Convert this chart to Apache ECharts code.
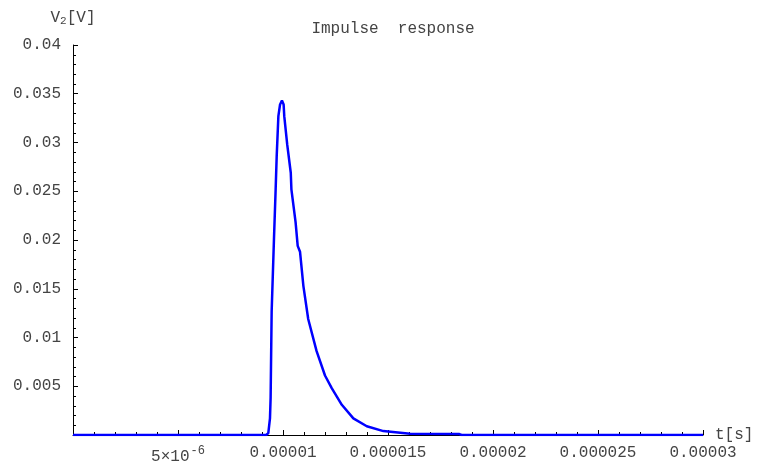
<!DOCTYPE html>
<html>
<head>
<meta charset="utf-8">
<script src="https://cdn.jsdelivr.net/npm/echarts@6/dist/echarts.min.js"></script>
<style>
  html, body { margin: 0; padding: 0; background: #fff; }
  #chart { width: 763px; height: 465px; }
</style>
</head>
<body>
<div id="chart"></div>
<script>
// time in microseconds (axis labels show seconds), voltage in volts
var timeUs = [0, 5, 9.2, 9.3, 9.38, 9.41, 9.46, 9.57, 9.65, 9.7, 9.78, 9.86, 9.95, 10.03, 10.06, 10.2, 10.37, 10.4, 10.6, 10.7, 10.81, 10.97, 11.2, 11.6, 12.0, 12.32, 12.8, 13.35, 13.99, 14.78, 16.05, 18.4, 18.5, 25, 30];
var voltage = [0, 0, 0, 0.0002, 0.0017, 0.0038, 0.0127, 0.0201, 0.0252, 0.0286, 0.0327, 0.0339, 0.0343, 0.0339, 0.0327, 0.0298, 0.0269, 0.0252, 0.0218, 0.0194, 0.0188, 0.0153, 0.0119, 0.0086, 0.0061, 0.0048, 0.0031, 0.0017, 0.0009, 0.0004, 0.00013, 0.0001, 0, 0, 0];

var xTickLabels = ['', '{a|5×10}{s|-6}', '0.00001', '0.000015', '0.00002', '0.000025', '0.00003'];
var yTickLabels = ['', '0.005', '0.01', '0.015', '0.02', '0.025', '0.03', '0.035', '0.04'];

var points = timeUs.map(function (t, i) { return [t, voltage[i]]; });

var font = 'Liberation Mono';
var textColor = '#444';

var myChart = echarts.init(document.getElementById('chart'));
var option = {
    backgroundColor: '#fff',
    animation: false,
    title: {
        text: 'Impulse  response',
        left: 388,
        top: 16,
        textAlign: 'center',
        textStyle: { fontFamily: font, fontSize: 16, fontWeight: 'normal', color: textColor }
    },
    grid: { left: 73, right: 60, top: 45, bottom: 28 },
    xAxis: {
        type: 'value',
        min: 0,
        max: 30,
        interval: 5,
        name: 't[s]',
        nameLocation: 'end',
        nameGap: 12,
        nameTextStyle: { fontFamily: font, fontSize: 16, color: textColor, verticalAlign: 'middle' },
        splitLine: { show: false },
        axisLine: { onZero: false, lineStyle: { color: '#000', width: 1 } },
        axisTick: { inside: true, length: 5, lineStyle: { color: '#000' } },
        minorTick: { show: true, splitNumber: 5, length: 3, lineStyle: { color: '#000' } },
        axisLabel: {
            margin: 10,
            fontFamily: font,
            fontSize: 16,
            color: textColor,
            formatter: function (v) { return xTickLabels[Math.round(v / 5)]; },
            rich: {
                a: { fontFamily: font, fontSize: 16, color: textColor },
                s: { fontFamily: font, fontSize: 12, color: textColor, padding: [0, 0, 12, 1] }
            }
        }
    },
    yAxis: {
        type: 'value',
        min: 0,
        max: 0.04,
        interval: 0.005,
        name: '{v|V}{sub|2}{v|[V]}',
        nameLocation: 'end',
        nameGap: 18,
        nameTextStyle: {
            align: 'center',
            rich: {
                v: { fontFamily: font, fontSize: 16, color: textColor },
                sub: { fontFamily: font, fontSize: 11, color: textColor, padding: [8, 0, 0, 0] }
            }
        },
        splitLine: { show: false },
        axisLine: { lineStyle: { color: '#000', width: 1 } },
        axisTick: { inside: true, length: 5, lineStyle: { color: '#000' } },
        minorTick: { show: true, splitNumber: 5, length: 3, lineStyle: { color: '#000' } },
        axisLabel: {
            margin: 12,
            fontFamily: font,
            fontSize: 16,
            color: textColor,
            formatter: function (v) { return yTickLabels[Math.round(v / 0.005)]; }
        }
    },
    series: [{
        type: 'line',
        data: points,
        showSymbol: false,
        smooth: false,
        lineStyle: { color: '#0000ff', width: 2.5 },
        itemStyle: { color: '#0000ff' }
    }]
};
myChart.setOption(option);
</script>
</body>
</html>
